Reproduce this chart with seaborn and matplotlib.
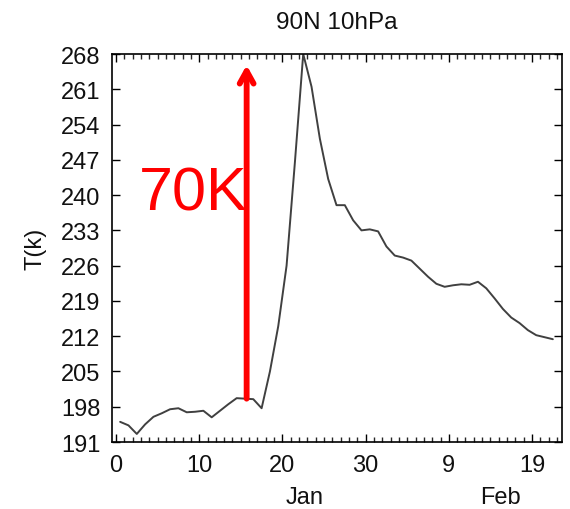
import numpy as np
import matplotlib
matplotlib.use("Agg")
import matplotlib.pyplot as plt
import matplotlib.transforms as mtransforms
import seaborn as sns
import pandas as pd

# ---- data ----
day = np.arange(53) + 0.5  # days since 0 Jan (daily means)
temperature = [
    195.0, 194.3, 192.6, 194.5, 196.0, 196.7, 197.5, 197.7, 196.9, 197.0,
    197.2, 195.9, 197.2, 198.5, 199.7, 199.6, 199.5, 197.7, 205.0, 214.0,
    226.0, 246.5, 268.0, 261.5, 251.2, 243.2, 238.0, 238.0, 235.0, 233.0,
    233.2, 232.8, 229.8, 228.0, 227.6, 227.0, 225.4, 223.8, 222.4, 221.8,
    222.1, 222.3, 222.2, 222.8, 221.5, 219.5, 217.4, 215.7, 214.6, 213.2,
    212.2, 211.8, 211.4,
]
ytick_values = [191, 198, 205, 212, 219, 226, 233, 240, 247, 254, 261, 268]
xtick_values = [0, 10, 20, 30, 40, 50]
xtick_labels = ["0", "10", "20", "30", "9", "19"]
month_labels = ["Jan", "Feb"]
month_positions = [22.7, 46.2]
title_text = "90N 10hPa"
ylabel_text = "T(k)"
arrow_day = 15.7
arrow_from = 199.6
arrow_to = 265.8
annot_text = "70K"

df = pd.DataFrame({"day": day, "T": temperature})

sns.set_style("ticks")
plt.rcParams["font.family"] = ["Liberation Sans", "DejaVu Sans"]

fig = plt.figure(figsize=(5.7, 5.1), dpi=100)
ax = fig.add_axes([112 / 570, 1 - 443 / 510, (562 - 112) / 570, (443 - 55) / 510])

sns.lineplot(data=df, x="day", y="T", ax=ax, color="#404040", linewidth=1.4)

ax.set_xlim(-0.48, 53.6)
ax.set_ylim(191, 268)
ax.set_yticks(ytick_values)
ax.set_xticks(xtick_values)
ax.set_xticklabels(xtick_labels)
ax.set_xticks(np.arange(0, 54, 1), minor=True)

ax.tick_params(axis="both", which="major", direction="in", length=6, width=1.0,
               labelsize=17, pad=8.5, top=True, right=True, color="black",
               labelcolor="#111111")
ax.tick_params(axis="x", which="minor", direction="in", length=3.5, width=1.0,
               top=True, bottom=True)
ax.tick_params(axis="y", which="minor", left=False, right=False)

for s in ax.spines.values():
    s.set_visible(True)
    s.set_linewidth(1.2)
    s.set_color("black")

ax.set_xlabel("")
ax.set_ylabel(ylabel_text, fontsize=17, labelpad=10, color="#111111")
ax.set_title(title_text, fontsize=17.5, pad=19, color="#111111")

trans = mtransforms.blended_transform_factory(ax.transData, ax.transAxes)
for pos, lab in zip(month_positions, month_labels):
    ax.text(pos, -0.156, lab, transform=trans, ha="center", va="baseline",
            fontsize=17, color="#111111")

ax.annotate("", xy=(arrow_day, arrow_to), xytext=(arrow_day, arrow_from),
            arrowprops=dict(arrowstyle="->,head_length=0.9,head_width=0.5",
                            color="#ff0000", lw=4.2, shrinkA=0, shrinkB=0))
ax.text(2.8, 237.2, annot_text, color="#ff0000", fontsize=44, ha="left", va="baseline")

fig.savefig("out.png", dpi=100)
